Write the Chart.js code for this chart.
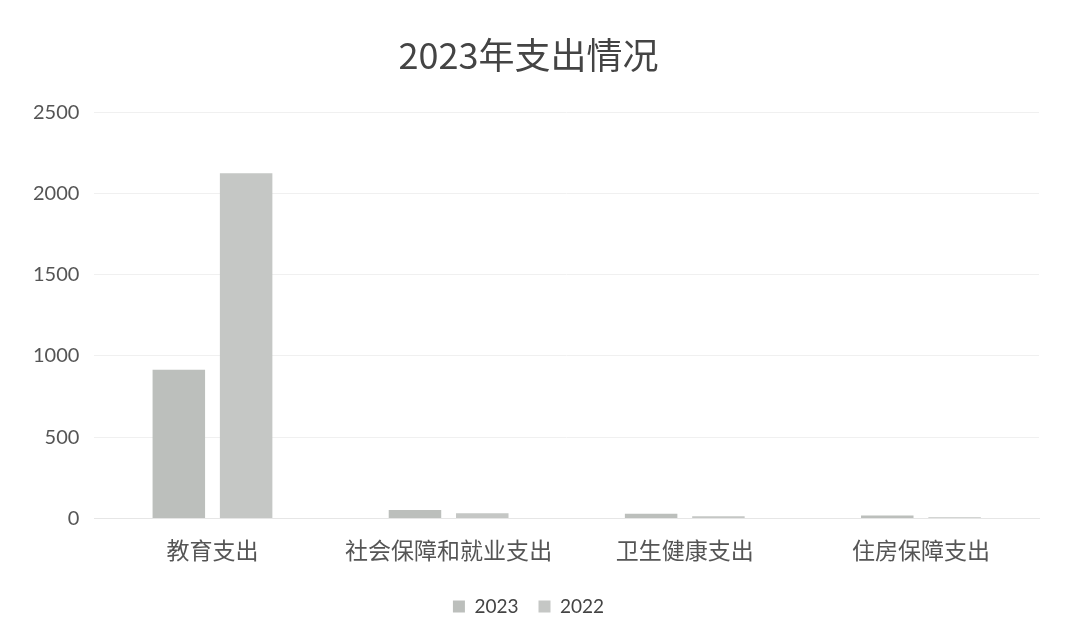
<!DOCTYPE html>
<html><head><meta charset="utf-8">
<script src="https://cdn.jsdelivr.net/npm/chart.js@4/dist/chart.umd.min.js"></script>
<style>html,body{margin:0;padding:0;background:#fff;}#wrap{width:1067px;height:643px;}</style>
</head><body><div id="wrap"><canvas id="c"></canvas></div>
<script>
const categories = ['教育支出','社会保障和就业支出','卫生健康支出','住房保障支出'];
const series2023 = [915, 52, 28, 18];
const series2022 = [2125, 32, 14, 7];
const legendLabels = ['2023','2022'];
const yTicks = [0,500,1000,1500,2000,2500];
const CJK = "'Noto Sans CJK SC',sans-serif";
const NUM = "Lato,'Noto Sans',sans-serif";
new Chart(document.getElementById('c'), {
  type: 'bar',
  data: {
    labels: categories,
    datasets: [
      {label: legendLabels[0], data: series2023, backgroundColor: '#bcbfbc'},
      {label: legendLabels[1], data: series2022, backgroundColor: '#c5c7c5'}
    ]
  },
  options: {
    responsive: true, maintainAspectRatio: false, animation: false,
    layout: {padding: {left: 18, right: 28, top: 34, bottom: 17}},
    datasets: {bar: {categoryPercentage: 0.57, barPercentage: 0.78}},
    plugins: {
      title: {display: true, text: '2023年支出情况', color: '#444', font: {family: CJK, size: 36, weight: 'normal'}, padding: {top: 0, bottom: 35}},
      legend: {position: 'bottom', labels: {color: '#444', font: {family: NUM, size: 19}, boxWidth: 12, boxHeight: 12, padding: 20}},
      tooltip: {enabled: false}
    },
    scales: {
      x: {grid: {display: false}, border: {display: true, color: '#e6e6e6'},
          ticks: {color: '#555', font: {family: CJK, size: 23}, padding: 10},
          afterFit: s => { s.height += 3; }},
      y: {min: 0, max: 2500, afterBuildTicks: s => { s.ticks = yTicks.map(v => ({value: v})); },
          grid: {color: '#f0f0f0', tickLength: 0}, border: {display: false},
          ticks: {color: '#555', font: {family: NUM, size: 20}, padding: 15, callback: v => String(v)}}
    }
  }
});
</script></body></html>
